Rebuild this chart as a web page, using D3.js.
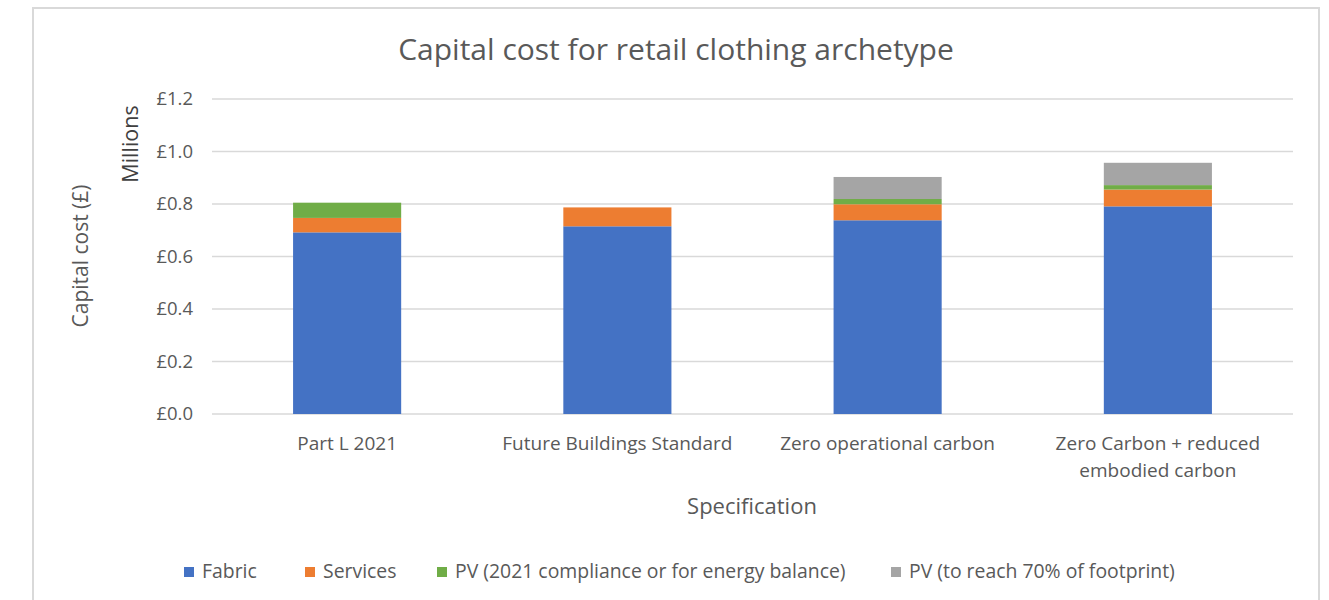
<!DOCTYPE html>
<html>
<head>
<meta charset="utf-8">
<script src="https://cdn.jsdelivr.net/npm/d3@7"></script>
<style>
  body { margin: 0; background: #fff; }
  text { font-family: "Open Sans", Lato, sans-serif; }
</style>
</head>
<body>
<div id="container"></div>
<script>
// Chart data (values in £ millions)
const categories = [
    ["Part L 2021"],
    ["Future Buildings Standard"],
    ["Zero operational carbon"],
    ["Zero Carbon + reduced", "embodied carbon"]
];
const seriesNames = ["Fabric", "Services", "PV (2021 compliance or for energy balance)", "PV (to reach 70% of footprint)"];
const fabric = [0.692, 0.715, 0.738, 0.791];
const services = [0.055, 0.072, 0.061, 0.064];
const pvCompliance = [0.058, 0, 0.020, 0.017];
const pvFootprint = [0, 0, 0.084, 0.085];
const yTicks = [0, 0.2, 0.4, 0.6, 0.8, 1.0, 1.2];
const colors = ["#4472c4", "#ed7d31", "#70ad47", "#a5a5a5"];

const W = 1329, H = 600;
const margin = { top: 99, right: 36, bottom: 186, left: 212 };
const width = W - margin.left - margin.right;
const height = H - margin.top - margin.bottom;

const svg = d3.select("#container")
    .append("svg")
    .attr("width", W)
    .attr("height", H);

// Chart frame
svg.append("rect")
    .attr("x", 33).attr("y", 8)
    .attr("width", 1286).attr("height", 600)
    .attr("fill", "none")
    .attr("stroke", "#d9d9d9")
    .attr("stroke-width", 2);

const g = svg.append("g")
    .attr("transform", `translate(${margin.left},${margin.top})`);

// Build table for stacking
const keys = ["fabric", "services", "pvCompliance", "pvFootprint"];
const table = categories.map((c, i) => ({
    key: c.join(" "),
    lines: c,
    fabric: fabric[i],
    services: services[i],
    pvCompliance: pvCompliance[i],
    pvFootprint: pvFootprint[i]
}));

const x = d3.scaleBand()
    .domain(table.map(d => d.key))
    .range([0, width])
    .paddingInner(0.6)
    .paddingOuter(0.3);

const y = d3.scaleLinear()
    .domain([0, 1.2])
    .range([height, 0]);

// Gridlines
g.append("g")
    .selectAll("line")
    .data(yTicks)
    .enter()
    .append("line")
    .attr("x1", 0).attr("x2", width)
    .attr("y1", d => y(d)).attr("y2", d => y(d))
    .attr("stroke", "#d9d9d9")
    .attr("stroke-width", 1.3);

// Y axis labels
const yAxis = g.append("g")
    .call(d3.axisLeft(y).tickValues(yTicks).tickSize(0).tickPadding(19)
        .tickFormat(d => "£" + d3.format(".1f")(d)));
yAxis.select(".domain").remove();
yAxis.selectAll("text")
    .attr("fill", "#595959")
    .style("font-size", "18.5px")
    .style("font-family", "'Open Sans', sans-serif");

// Stacked bars
const stacked = d3.stack().keys(keys)(table);
g.selectAll(".layer")
    .data(stacked)
    .enter()
    .append("g")
    .attr("class", "layer")
    .attr("fill", (d, i) => colors[i])
    .selectAll("rect")
    .data(d => d)
    .enter()
    .append("rect")
    .attr("x", d => x(d.data.key))
    .attr("width", x.bandwidth())
    .attr("y", d => y(d[1]))
    .attr("height", d => y(d[0]) - y(d[1]));

// Category labels
const catG = g.append("g")
    .selectAll("text")
    .data(table)
    .enter()
    .append("text")
    .attr("x", d => x(d.key) + x.bandwidth() / 2)
    .attr("y", height + 36)
    .attr("text-anchor", "middle")
    .attr("fill", "#595959")
    .style("font-size", "19px");
catG.selectAll("tspan")
    .data(d => d.lines)
    .enter()
    .append("tspan")
    .attr("x", function () { return d3.select(this.parentNode).attr("x"); })
    .attr("dy", (d, i) => i === 0 ? 0 : 27)
    .text(d => d);

// Title
svg.append("text")
    .attr("x", 676).attr("y", 60)
    .attr("text-anchor", "middle")
    .attr("fill", "#595959")
    .style("font-size", "30px")
    .text("Capital cost for retail clothing archetype");

// Axis titles
svg.append("text")
    .attr("x", 752).attr("y", 514)
    .attr("text-anchor", "middle")
    .attr("fill", "#595959")
    .style("font-size", "22px")
    .text("Specification");

svg.append("text")
    .attr("transform", "translate(88,256) rotate(-90)")
    .attr("text-anchor", "middle")
    .attr("fill", "#595959")
    .style("font-size", "21px")
    .text("Capital cost (£)");

svg.append("text")
    .attr("transform", "translate(138,144) rotate(-90)")
    .attr("text-anchor", "middle")
    .attr("fill", "#404040")
    .style("font-size", "21.5px")
    .text("Millions");

// Legend
const legendX = [184, 305, 437, 891];
const legend = svg.append("g")
    .selectAll("g")
    .data(seriesNames)
    .enter()
    .append("g")
    .attr("transform", (d, i) => `translate(${legendX[i]},567)`);
legend.append("rect")
    .attr("width", 10).attr("height", 10)
    .attr("fill", (d, i) => colors[i]);
legend.append("text")
    .attr("x", 18).attr("y", 11)
    .attr("fill", "#595959")
    .style("font-size", "19.4px")
    .text(d => d);
</script>
</body>
</html>
